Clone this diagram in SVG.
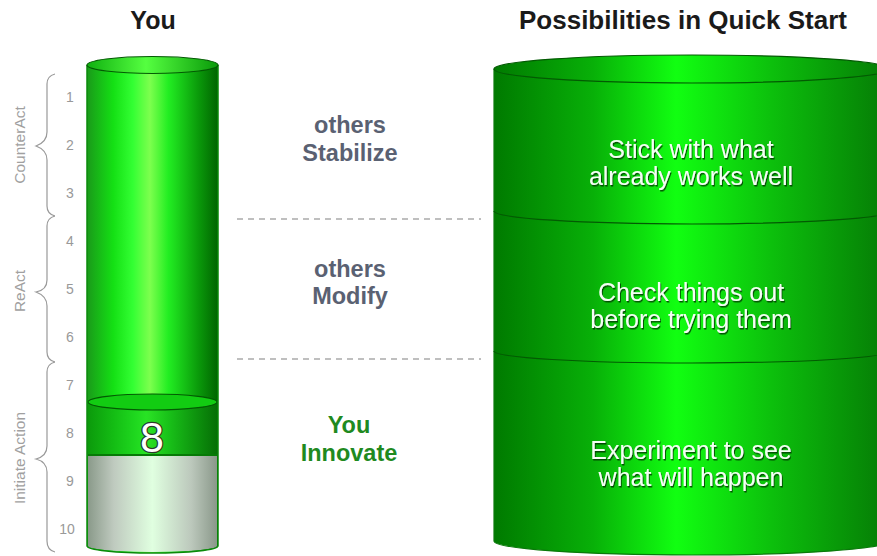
<svg xmlns="http://www.w3.org/2000/svg" width="877" height="556" viewBox="0 0 877 556">
<defs>
<linearGradient id="gL" x1="0" y1="0" x2="1" y2="0">
<stop offset="0" stop-color="#1a9a1a"/>
<stop offset="0.2" stop-color="#14e014"/>
<stop offset="0.35" stop-color="#33ff33"/>
<stop offset="0.48" stop-color="#7dff4e"/>
<stop offset="0.62" stop-color="#22ee22"/>
<stop offset="0.85" stop-color="#0a9a0a"/>
<stop offset="1" stop-color="#006400"/>
</linearGradient>
<linearGradient id="gTop" x1="0" y1="0" x2="1" y2="0">
<stop offset="0" stop-color="#10b010"/>
<stop offset="0.45" stop-color="#55ff40"/>
<stop offset="1" stop-color="#0a9a0a"/>
</linearGradient>
<linearGradient id="gSeg" x1="0" y1="0" x2="1" y2="0">
<stop offset="0" stop-color="#0a9a0a"/>
<stop offset="0.45" stop-color="#20e020"/>
<stop offset="1" stop-color="#067006"/>
</linearGradient>
<linearGradient id="gGray" x1="0" y1="0" x2="1" y2="0">
<stop offset="0" stop-color="#8a9a8a"/>
<stop offset="0.2" stop-color="#bfcabf"/>
<stop offset="0.5" stop-color="#e0ffe0"/>
<stop offset="0.8" stop-color="#bcc8bc"/>
<stop offset="1" stop-color="#8a988a"/>
</linearGradient>
<linearGradient id="gR" x1="0" y1="0" x2="1" y2="0">
<stop offset="0" stop-color="#007a00"/>
<stop offset="0.25" stop-color="#08b008"/>
<stop offset="0.46" stop-color="#11ff11"/>
<stop offset="0.7" stop-color="#0cc00c"/>
<stop offset="1" stop-color="#057a05"/>
</linearGradient>
<filter id="sh" x="-10%" y="-30%" width="120%" height="160%">
<feDropShadow dx="1" dy="1.5" stdDeviation="0.6" flood-color="#003300" flood-opacity="0.8"/>
</filter>
<style>
.title{font-family:"Liberation Sans",Arial,sans-serif;font-weight:bold;font-size:25px;fill:#1a1a1a;text-anchor:middle}
.num{font-family:"Liberation Sans",Arial,sans-serif;font-size:14px;fill:#999;text-anchor:middle}
.side{font-family:"Liberation Sans",Arial,sans-serif;font-size:15.5px;fill:#a0a0a0;text-anchor:middle}
.brace{fill:none;stroke:#999;stroke-width:1.2}
.mid{font-family:"Liberation Sans",Arial,sans-serif;font-weight:bold;font-size:23.5px;fill:#5a6172;text-anchor:middle}
.midg{font-family:"Liberation Sans",Arial,sans-serif;font-weight:bold;font-size:23.5px;fill:#1f8a1f;text-anchor:middle}
.dash{stroke:#aaa;stroke-width:1.3;stroke-dasharray:6,5}
.rt{font-family:"Liberation Sans",Arial,sans-serif;font-size:25px;fill:#f4fff4;text-anchor:middle}
.rim{fill:none;stroke:#035a03;stroke-width:1.2}
</style>
</defs>

<g id="titles">
<text class="title" x="153" y="29">You</text>
<text class="title" x="683" y="29" style="font-size:26px">Possibilities in Quick Start</text>
</g>

<g id="scale">
<text class="num" x="70" y="102">1</text>
<text class="num" x="70" y="150">2</text>
<text class="num" x="70" y="198">3</text>
<text class="num" x="70" y="246">4</text>
<text class="num" x="70" y="294">5</text>
<text class="num" x="70" y="342">6</text>
<text class="num" x="70" y="390">7</text>
<text class="num" x="70" y="438">8</text>
<text class="num" x="70" y="486">9</text>
<text class="num" x="67" y="534">10</text>
</g>

<g id="brace-counteract">
<path class="brace" d="M55,74 Q47,76 47,84 L47,132 Q47,142 36,146 Q47,150 47,160 L47,206 Q47,214 55,216"/>
<text class="side" transform="translate(25,145) rotate(-90)">CounterAct</text>
</g>
<g id="brace-react">
<path class="brace" d="M55,216 Q47,218 47,226 L47,280 Q47,290 36,292 Q47,296 47,306 L47,352 Q47,360 55,362"/>
<text class="side" transform="translate(25,291) rotate(-90)">ReAct</text>
</g>
<g id="brace-initiate">
<path class="brace" d="M55,362 Q47,364 47,372 L47,446 Q47,456 36,459 Q47,462 47,472 L47,541 Q47,550 55,552"/>
<text class="side" transform="translate(25,458) rotate(-90)">Initiate Action</text>
</g>

<g id="you-cylinder">
<path d="M87,65 L87,546 A65.5,7 0 0 0 218,546 L218,65 Z" fill="url(#gL)"/>
<path d="M88,455 L88,546 A64.5,6 0 0 0 217,546 L217,455 Z" fill="url(#gGray)"/>
<path d="M88,402 L88,455 L217,455 L217,402 Z" fill="url(#gSeg)" opacity="0.9"/>
<ellipse cx="152.5" cy="402" rx="64.5" ry="8" fill="#12cc12" stroke="#035a03" stroke-width="1.2"/>
<line x1="88" y1="455" x2="217" y2="455" stroke="#067a06" stroke-width="2"/>
<path d="M87,65 L87,546 A65.5,7 0 0 0 218,546 L218,65" fill="none" stroke="#0a8a0a" stroke-width="1.5"/>
<ellipse cx="152.5" cy="65" rx="65.5" ry="8.5" fill="url(#gTop)" stroke="#035a03" stroke-width="1.2"/>
<text x="152" y="452" font-family="'Liberation Sans',Arial,sans-serif" font-size="43" fill="#ffffff" stroke="#2a3a2a" stroke-width="2.5" paint-order="stroke" text-anchor="middle">8</text>
</g>

<g id="dividers">
<line class="dash" x1="237" y1="219" x2="481" y2="219"/>
<line class="dash" x1="237" y1="359" x2="481" y2="359"/>
</g>

<g id="label-stabilize">
<text class="mid" x="350" y="133">others</text>
<text class="mid" x="350" y="161">Stabilize</text>
</g>
<g id="label-modify">
<text class="mid" x="350" y="277">others</text>
<text class="mid" x="350" y="304">Modify</text>
</g>
<g id="label-innovate">
<text class="midg" x="349" y="433">You</text>
<text class="midg" x="349" y="461">Innovate</text>
</g>

<g id="possibilities-cylinder">
<path d="M494,69 L494,541 A198,14 0 0 0 890,541 L890,69 Z" fill="url(#gR)"/>
<path d="M494,69 L494,541 A198,14 0 0 0 890,541" fill="none" stroke="#0a7a0a" stroke-width="1.2"/>
<path class="rim" d="M494,211 A198,13 0 0 0 890,211"/>
<path class="rim" d="M494,351 A198,12 0 0 0 890,351"/>
<ellipse cx="692" cy="69" rx="198" ry="14" fill="url(#gR)" stroke="#035a03" stroke-width="1.2"/>
</g>

<g id="band-stick" filter="url(#sh)">
<text class="rt" x="691" y="158">Stick with what</text>
<text class="rt" x="691" y="185">already works well</text>
</g>
<g id="band-check" filter="url(#sh)">
<text class="rt" x="691" y="301">Check things out</text>
<text class="rt" x="691" y="328">before trying them</text>
</g>
<g id="band-experiment" filter="url(#sh)">
<text class="rt" x="691" y="459">Experiment to see</text>
<text class="rt" x="691" y="486">what will happen</text>
</g>
</svg>
